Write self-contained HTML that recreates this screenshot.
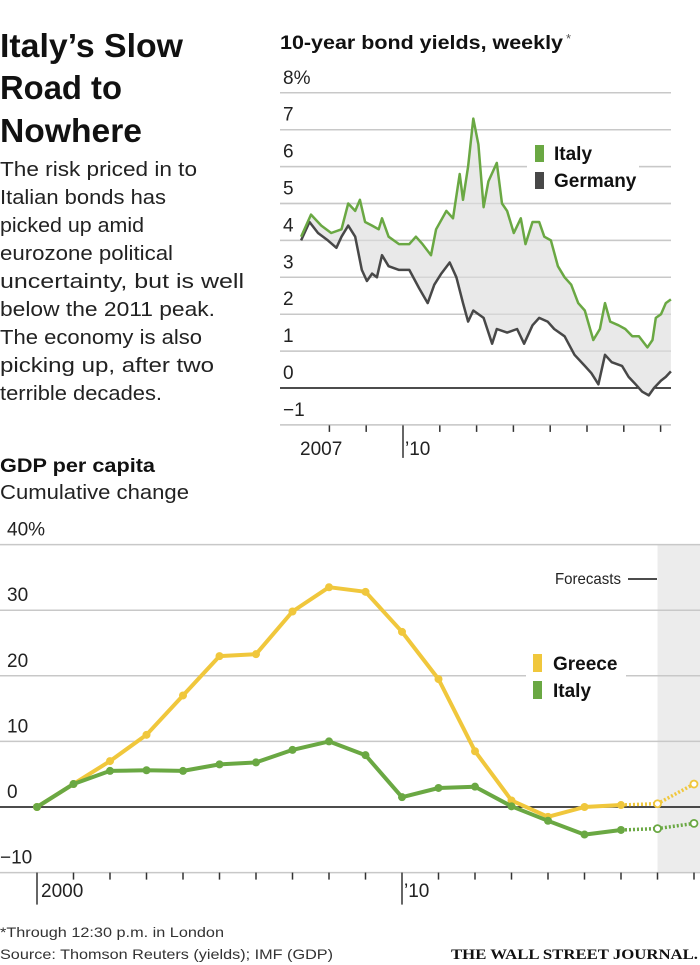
<!DOCTYPE html>
<html><head><meta charset="utf-8"><style>
html,body{margin:0;padding:0;background:#fff;}
svg{display:block;font-family:"Liberation Sans",sans-serif;}
</style></head><body>
<svg id="page" width="700" height="965" viewBox="0 0 700 965" xmlns="http://www.w3.org/2000/svg">
<g font-weight="bold" font-size="33" fill="#111">
<text x="0" y="57" textLength="183" lengthAdjust="spacingAndGlyphs">Italy’s Slow</text>
<text x="0" y="99" textLength="122" lengthAdjust="spacingAndGlyphs">Road to</text>
<text x="0" y="142" textLength="142" lengthAdjust="spacingAndGlyphs">Nowhere</text>
</g>
<g font-size="20" fill="#222">
<text x="0" y="176" textLength="197" lengthAdjust="spacingAndGlyphs">The risk priced in to</text>
<text x="0" y="204" textLength="166" lengthAdjust="spacingAndGlyphs">Italian bonds has</text>
<text x="0" y="232" textLength="144" lengthAdjust="spacingAndGlyphs">picked up amid</text>
<text x="0" y="260" textLength="173" lengthAdjust="spacingAndGlyphs">eurozone political</text>
<text x="0" y="288" textLength="244" lengthAdjust="spacingAndGlyphs">uncertainty, but is well</text>
<text x="0" y="316" textLength="215" lengthAdjust="spacingAndGlyphs">below the 2011 peak.</text>
<text x="0" y="344" textLength="202" lengthAdjust="spacingAndGlyphs">The economy is also</text>
<text x="0" y="372" textLength="214" lengthAdjust="spacingAndGlyphs">picking up, after two</text>
<text x="0" y="400" textLength="162" lengthAdjust="spacingAndGlyphs">terrible decades.</text>
</g>
<text x="280" y="49" font-size="19" font-weight="bold" fill="#111" textLength="283" lengthAdjust="spacingAndGlyphs">10-year bond yields, weekly</text>
<text x="566" y="43" font-size="13" fill="#555">*</text>
<g id="bond"></g>
<text x="0" y="472" font-size="19" font-weight="bold" fill="#111" textLength="155" lengthAdjust="spacingAndGlyphs">GDP per capita</text>
<text x="0" y="499" font-size="20" fill="#222" textLength="189" lengthAdjust="spacingAndGlyphs">Cumulative change</text>
<g id="gdp"></g>
<text x="0" y="937" font-size="14" fill="#333" textLength="224" lengthAdjust="spacingAndGlyphs">*Through 12:30 p.m. in London</text>
<text x="0" y="959" font-size="14" fill="#333" textLength="333" lengthAdjust="spacingAndGlyphs">Source: Thomson Reuters (yields); IMF (GDP)</text>
<text x="698" y="959" text-anchor="end" font-family="'Liberation Serif',serif" font-size="15" font-weight="bold" fill="#111" textLength="247" lengthAdjust="spacingAndGlyphs">THE WALL STREET JOURNAL.</text>
</svg>
<script>
// ---- bond yields data ----
const italyDates=[2007.23,2007.50,2007.78,2008.05,2008.33,2008.51,2008.70,2008.83,2008.97,2009.16,2009.34,2009.43,2009.61,2009.89,2010.17,2010.35,2010.53,2010.76,2010.90,2011.18,2011.36,2011.54,2011.63,2011.77,2011.91,2012.05,2012.19,2012.32,2012.55,2012.69,2012.83,2013.01,2013.20,2013.33,2013.52,2013.70,2013.84,2014.02,2014.21,2014.39,2014.57,2014.76,2014.94,2015.17,2015.35,2015.49,2015.63,2015.86,2016.04,2016.23,2016.41,2016.64,2016.78,2016.87,2017.01,2017.14,2017.28];
const italyYields=[4.1,4.7,4.4,4.2,4.3,5.0,4.8,5.1,4.5,4.4,4.3,4.6,4.1,3.9,3.9,4.1,3.9,3.6,4.3,4.8,4.6,5.8,5.1,6.0,7.3,6.6,4.9,5.6,6.1,5.0,4.8,4.2,4.6,3.9,4.5,4.5,4.1,4.0,3.3,3.0,2.8,2.3,2.1,1.3,1.6,2.3,1.8,1.7,1.6,1.4,1.4,1.1,1.3,1.9,2.0,2.3,2.4];
const germanyDates=[2007.23,2007.46,2007.69,2007.96,2008.19,2008.33,2008.51,2008.70,2008.88,2009.02,2009.16,2009.29,2009.43,2009.61,2009.89,2010.17,2010.44,2010.67,2010.85,2011.04,2011.27,2011.45,2011.63,2011.77,2011.91,2012.19,2012.42,2012.55,2012.83,2013.10,2013.29,2013.52,2013.70,2013.93,2014.11,2014.39,2014.66,2014.94,2015.12,2015.31,2015.49,2015.67,2015.95,2016.13,2016.32,2016.50,2016.68,2016.82,2017.01,2017.14,2017.28];
const germanyYields=[4.0,4.5,4.2,4.0,3.8,4.1,4.4,4.1,3.2,2.9,3.1,3.0,3.6,3.3,3.2,3.2,2.7,2.3,2.8,3.1,3.4,3.0,2.3,1.8,2.1,1.9,1.2,1.6,1.5,1.6,1.2,1.7,1.9,1.8,1.6,1.4,0.9,0.6,0.4,0.1,0.9,0.7,0.6,0.3,0.1,-0.1,-0.2,0.0,0.2,0.3,0.45];
const bondTicks=[8,7,6,5,4,3,2,1,0,-1];
const bondTickLabels=["8%","7","6","5","4","3","2","1","0","−1"];
const bondYearTicks=[2008,2009,2010,2011,2012,2013,2014,2015,2016,2017];

// ---- GDP data ----
const gdpYears=[1999,2000,2001,2002,2003,2004,2005,2006,2007,2008,2009,2010,2011,2012,2013,2014,2015];
const greeceGdp=[0,3.5,7,11,17,23,23.3,29.8,33.5,32.8,26.7,19.5,8.5,1,-1.5,0,0.3];
const italyGdp=[0,3.5,5.5,5.6,5.5,6.5,6.8,8.7,10,7.9,1.5,2.9,3.1,0.1,-2.1,-4.2,-3.5];
const forecastYears=[2015,2016,2017];
const greeceForecast=[0.3,0.5,3.5];
const italyForecast=[-3.5,-3.3,-2.5];
const gdpTicks=[40,30,20,10,0,-10];
const gdpTickLabels=["40%","30","20","10","0","−10"];

const NS="http://www.w3.org/2000/svg";
function mk(parent,tag,attrs){const e=document.createElementNS(NS,tag);for(const k in attrs)e.setAttribute(k,attrs[k]);parent.appendChild(e);return e;}
const GREEN="#6aa843",DARK="#484848",YEL="#f0c73c";

// bond chart
const bx=t=>403+(t-2010)*36.8, by=v=>388-v*36.9;
const bond=document.getElementById('bond');


bondTicks.forEach((v,i)=>{
  const l=mk(bond,'line',{x1:280,x2:671,y1:by(v),y2:by(v),stroke:v===0?'#111':'#c8c8c8','stroke-width':1.5});
  
  
  const t=mk(bond,'text',{x:283,y:by(v)-9,'font-size':19,fill:'#222'});t.textContent=bondTickLabels[i];
  
  
});
bondYearTicks.forEach(y=>{
  const big=y===2010;
  const l=mk(bond,'line',{x1:bx(y),x2:bx(y),y1:by(-1),y2:big?by(-1)+33:by(-1)+7,stroke:'#333','stroke-width':1.5});
  
  
});
{const t=mk(bond,'text',{x:300,y:455,'font-size':19,fill:'#222'});t.textContent='2007';


const t2=mk(bond,'text',{x:405,y:455,'font-size':19,fill:'#222'});t2.textContent='’10';

}
const ipts=italyDates.map((d,i)=>bx(d).toFixed(1)+','+by(italyYields[i]).toFixed(1));
const gpts=germanyDates.map((d,i)=>bx(d).toFixed(1)+','+by(germanyYields[i]).toFixed(1));
const spread=mk(bond,'polygon',{points:ipts.concat(gpts.slice().reverse()).join(' '),fill:'#e9e9e9'});


bondTicks.forEach(v=>{if(v!==0){const l=mk(bond,'line',{x1:280,x2:671,y1:by(v),y2:by(v),stroke:'#c8c8c8','stroke-width':1.5,'stroke-opacity':0.6});

}});
const gl=mk(bond,'polyline',{points:gpts.join(' '),fill:'none',stroke:DARK,'stroke-width':2.5,'stroke-linejoin':'round'});


const il=mk(bond,'polyline',{points:ipts.join(' '),fill:'none',stroke:GREEN,'stroke-width':2.5,'stroke-linejoin':'round'});


{const bg=mk(bond,'rect',{x:527,y:140,width:112,height:52,fill:'#fff'});


[[GREEN,'Italy',153],[DARK,'Germany',180]].forEach(([c,n,y])=>{
  const s=mk(bond,'rect',{x:535,y:y-8,width:9,height:17,fill:c});
  
  
  const t=mk(bond,'text',{x:554,y:y+7,'font-size':19,'font-weight':'bold',fill:'#111'});t.textContent=n;
  
  
});}

// GDP chart
const gx=y=>37+(y-1999)*36.5, gy=v=>807-v*6.56;
const gdp=document.getElementById('gdp');


{const r=mk(gdp,'rect',{x:gx(2016),y:545,width:700-gx(2016),height:327,fill:'#ececec'});

}
gdpTicks.forEach((v,i)=>{
  const l=mk(gdp,'line',{x1:0,x2:700,y1:gy(v),y2:gy(v),stroke:v===0?'#111':'#c8c8c8','stroke-width':1.5});
  
  
  const t=mk(gdp,'text',{x:v<0?0:7,y:gy(v)-9,'font-size':19,fill:'#222'});t.textContent=gdpTickLabels[i];
  
  
});
for(let y=1999;y<=2017;y++){
  const big=y===1999||y===2009;
  const l=mk(gdp,'line',{x1:gx(y),x2:gx(y),y1:gy(-10),y2:big?gy(-10)+32:gy(-10)+7,stroke:'#333','stroke-width':1.5});
  
  
}
{const t=mk(gdp,'text',{x:41,y:897,'font-size':19,fill:'#222'});t.textContent='2000';


const t2=mk(gdp,'text',{x:404,y:897,'font-size':19,fill:'#222'});t2.textContent='’10';


const f=mk(gdp,'text',{x:555,y:584,'font-size':16,fill:'#222',textLength:66,lengthAdjust:'spacingAndGlyphs'});f.textContent='Forecasts';


const fl=mk(gdp,'line',{x1:628,x2:657,y1:579,y2:579,stroke:'#111','stroke-width':1.5});


const bg=mk(gdp,'rect',{x:526,y:650,width:100,height:50,fill:'#fff'});

}
function series(vals,yrs,color,name,dashed){
  const pts=yrs.map((y,i)=>gx(y).toFixed(1)+','+gy(vals[i]).toFixed(1)).join(' ');
  const a={points:pts,fill:'none',stroke:color,'stroke-width':4,'stroke-linejoin':'round'};
  if(dashed){a['stroke-dasharray']='2 2';a['stroke-width']=3.5;}
  const l=mk(gdp,'polyline',a);
  
  
  yrs.forEach((y,i)=>{
    if(dashed&&i===0)return;
    const c=mk(gdp,'circle',{cx:gx(y),cy:gy(vals[i]),r:dashed?3.5:4,fill:dashed?'#fff':color,stroke:color,'stroke-width':dashed?1.8:0});
    
    
  });
}
series(greeceGdp,gdpYears,YEL,'greece-gdp',false);
series(greeceForecast,forecastYears,YEL,'greece-forecast',true);
series(italyGdp,gdpYears,GREEN,'italy-gdp',false);
series(italyForecast,forecastYears,GREEN,'italy-forecast',true);
[[YEL,'Greece',663],[GREEN,'Italy',690]].forEach(([c,n,y])=>{
  const s=mk(gdp,'rect',{x:533,y:y-9,width:9,height:18,fill:c});
  
  
  const t=mk(gdp,'text',{x:553,y:y+7,'font-size':19,'font-weight':'bold',fill:'#111'});t.textContent=n;
  
  
});
</script>
</body></html>
